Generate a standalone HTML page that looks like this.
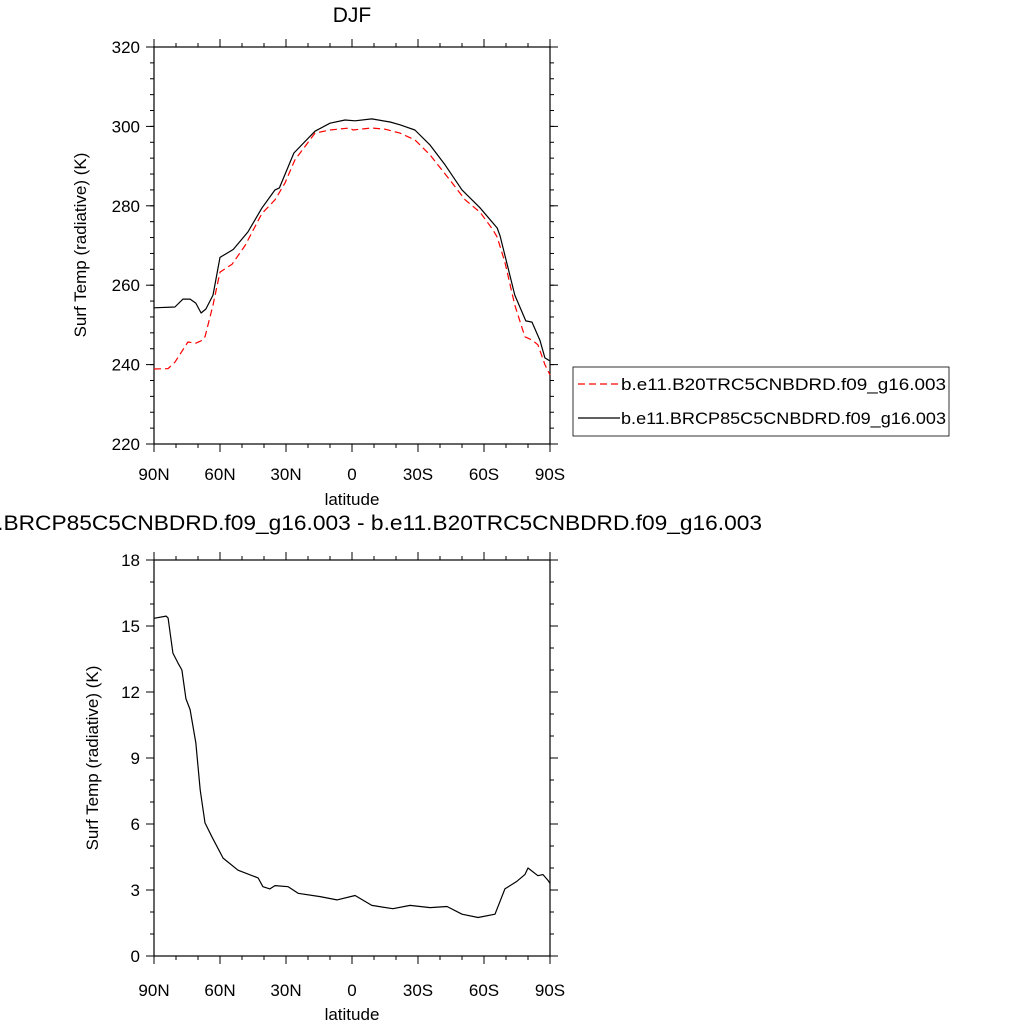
<!DOCTYPE html>
<html><head><meta charset="utf-8"><style>
html,body{margin:0;padding:0;background:#fff;}
svg{display:block;font-family:"Liberation Sans",sans-serif;}
</style></head><body>
<svg id="c" width="1024" height="1024">
</svg>
<script>
const latsBase = [90,80.5,76.8,73.6,71,68.6,66.4,63.2,60,54,47.3,41,35,33,26.4,16.8,10,3.2,-1.4,-9,-17.3,-21.8,-28.6,-35.5,-42.3,-50,-58.2,-66,-67.3,-74,-79,-81.8,-85.5,-87.7,-90];
const tempBase = [254.3,254.5,256.5,256.5,255.5,253,254,257.5,267,269,273.4,279.4,284,284.5,293.3,298.8,300.8,301.6,301.4,301.9,301.1,300.4,299.1,295.3,290.3,284,279.5,274.4,272.4,257.5,251,250.7,246,241.7,240.9];
const latsCtrl = [90,83.6,80.5,74.6,71,68.6,66.8,63.2,60,54.5,48.6,41,35,30.5,26,16.8,10,1,-0.5,-9,-15,-21.8,-28.6,-35.5,-44.5,-51.4,-58.2,-64,-66,-69.5,-74,-78.6,-81.8,-84.5,-87.7,-90];
const tempCtrl = [238.9,239,240.6,245.7,245.4,246,247,255,263.3,265.3,270,278,281.5,285.7,291.5,298.3,299.1,299.6,299.1,299.6,299.3,298.3,296.6,292.8,286.5,281.5,278.4,274,272.1,265.8,255,247,246.2,245,240,237.4];
const latsDiff = [90,84.5,83.6,81.4,79,77.3,75.5,73.6,71,69,66.8,63.6,58.6,51.8,42.7,40.5,37.3,35,29,24.5,14.5,6.8,-1.4,-9,-18.6,-26.4,-35.5,-43.2,-50,-57.3,-65,-69.5,-75,-78.6,-80,-84.5,-86.8,-89,-90];
const diffVals = [15.35,15.45,15.36,13.77,13.3,13.0,11.7,11.2,9.7,7.55,6.05,5.4,4.45,3.9,3.55,3.15,3.05,3.2,3.15,2.85,2.7,2.55,2.75,2.3,2.15,2.3,2.2,2.25,1.9,1.75,1.9,3.05,3.4,3.7,4.0,3.65,3.7,3.45,3.3];
const xTickLabels = ["90N","60N","30N","0","30S","60S","90S"];
const xTickVals = [90,60,30,0,-30,-60,-90];
const topYTicks = [220,240,260,280,300,320];
const botYTicks = [0,3,6,9,12,15,18];

const NS="http://www.w3.org/2000/svg";
const svg=document.getElementById('c');
function mk(t,a,p){const e=document.createElementNS(NS,t);for(const k in a)e.setAttribute(k,a[k]);(p||svg).appendChild(e);return e;}
const X0=154,X1=550;
const xs=lat=>X0+(90-lat)/180*(X1-X0);

function panel(name,top,bot,ymin,ymax,yticks,minorStep,xlabY,latY){
  const ys=v=>bot-(v-ymin)/(ymax-ymin)*(bot-top);
  const g=mk('g',{});
  
  
  mk('rect',{x:X0,y:top,width:X1-X0,height:bot-top,fill:'none',stroke:'#000','stroke-width':1.2},g);
  for(let v=ymin;v<=ymax+1e-6;v+=minorStep){const y=ys(v);
    mk('line',{x1:X0-4,x2:X0,y1:y,y2:y,stroke:'#000'},g);mk('line',{x1:X1,x2:X1+4,y1:y,y2:y,stroke:'#000'},g);}
  yticks.forEach(v=>{const y=ys(v);
    mk('line',{x1:X0-8,x2:X0,y1:y,y2:y,stroke:'#000'},g);mk('line',{x1:X1,x2:X1+8,y1:y,y2:y,stroke:'#000'},g);
    const t=mk('text',{x:X0-14,y:y+6,'text-anchor':'end','font-size':17},g);t.textContent=v;
    
    });
  for(let l=90;l>=-90;l-=10){const x=xs(l);
    mk('line',{x1:x,x2:x,y1:bot,y2:bot+4,stroke:'#000'},g);mk('line',{x1:x,x2:x,y1:top-4,y2:top,stroke:'#000'},g);}
  xTickVals.forEach((l,i)=>{const x=xs(l);
    mk('line',{x1:x,x2:x,y1:bot,y2:bot+8,stroke:'#000'},g);mk('line',{x1:x,x2:x,y1:top-8,y2:top,stroke:'#000'},g);
    const t=mk('text',{x:x,y:xlabY,'text-anchor':'middle','font-size':17},g);t.textContent=xTickLabels[i];
    
    });
  const xl=mk('text',{x:352,y:latY,'text-anchor':'middle','font-size':17},g);xl.textContent='latitude';
  
  
  return ys;
}
function line(ys,lats,vals,attrs,name){
  const d=lats.map((l,i)=>(i?'L':'M')+xs(l).toFixed(1)+' '+ys(vals[i]).toFixed(1)).join(' ');
  const p=mk('path',Object.assign({d:d,fill:'none','stroke-linejoin':'round'},attrs));
  
  
}
// top panel
const ys1=panel('top',47,444,220,320,topYTicks,4,480,505);
line(ys1,latsCtrl,tempCtrl,{stroke:'#f00','stroke-width':1.2,'stroke-dasharray':'7 4'},'series-b20trc5');
line(ys1,latsBase,tempBase,{stroke:'#000','stroke-width':1.2},'series-brcp85');
let t=mk('text',{x:352,y:22,'text-anchor':'middle','font-size':21});t.textContent='DJF';


t=mk('text',{x:0,y:0,'text-anchor':'middle','font-size':17,transform:'translate(86,245) rotate(-90)'});t.textContent='Surf Temp (radiative) (K)';


// legend
const lg=mk('g',{});


mk('rect',{x:573,y:367,width:376,height:69,fill:'#fff',stroke:'#000','stroke-width':0.8},lg);
mk('line',{x1:578,x2:620,y1:384,y2:384,stroke:'#f00','stroke-width':1.2,'stroke-dasharray':'7 4'},lg);
mk('line',{x1:578,x2:620,y1:418,y2:418,stroke:'#000','stroke-width':1.2},lg);
t=mk('text',{x:621,y:390,'font-size':17,textLength:325,lengthAdjust:'spacingAndGlyphs'},lg);t.textContent='b.e11.B20TRC5CNBDRD.f09_g16.003';


t=mk('text',{x:621,y:424,'font-size':17,textLength:325,lengthAdjust:'spacingAndGlyphs'},lg);t.textContent='b.e11.BRCP85C5CNBDRD.f09_g16.003';


// bottom panel
const ys2=panel('bottom',560,956,0,18,botYTicks,1,996,1020);
line(ys2,latsDiff,diffVals,{stroke:'#000','stroke-width':1.2},'series-difference');
t=mk('text',{x:352,y:530,'text-anchor':'middle','font-size':21,textLength:820,lengthAdjust:'spacingAndGlyphs'});t.textContent='b.e11.BRCP85C5CNBDRD.f09_g16.003 - b.e11.B20TRC5CNBDRD.f09_g16.003';


t=mk('text',{x:0,y:0,'text-anchor':'middle','font-size':17,transform:'translate(98,758) rotate(-90)'});t.textContent='Surf Temp (radiative) (K)';


</script>
</body></html>
